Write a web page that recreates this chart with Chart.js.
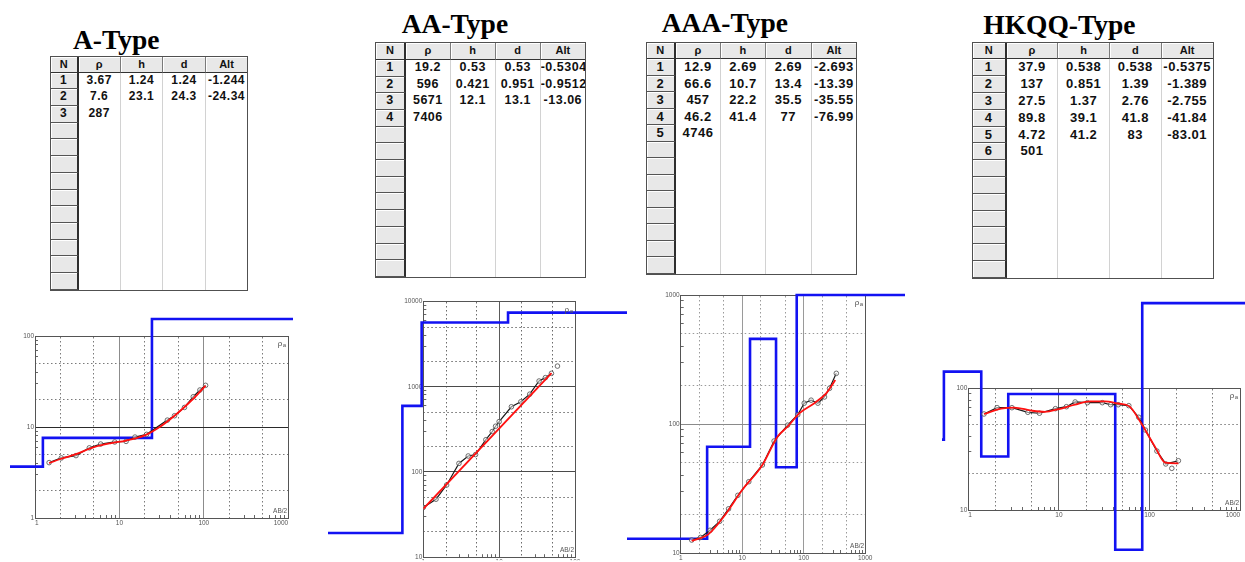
<!DOCTYPE html>
<html lang="en">
<head>
<meta charset="utf-8">
<title>Resistivity sounding curve types</title>
<script src="https://cdn.jsdelivr.net/npm/chart.js"></script>
<style>
  html, body { margin: 0; padding: 0; background: #fff; }
  body { position: relative; width: 1245px; height: 562px; overflow: hidden; }
  .title { position: absolute; font: bold 27.5px "Liberation Serif", "Times New Roman", serif; line-height: 27.5px; color: #000; white-space: nowrap; }
  .ltab { position: absolute; box-sizing: content-box; border: 1px solid #505050; background: #fff;
          font-family: "Liberation Sans", Arial, sans-serif; font-weight: bold; color: #111; }
  .row { display: flex; }
  .cell { box-sizing: border-box; overflow: hidden; white-space: nowrap; text-align: center; letter-spacing: 0.5px; flex: none; }
  .hd { background: #e8e8e8; border-right: 1px solid #7a7a7a; border-bottom: 1px solid #333; box-shadow: inset 1px 1px 0 #fff; font-size: 11px; letter-spacing: 0; }
  .nc { background: #e8e8e8; border-bottom: 1px solid #555; box-shadow: inset 1px 1px 0 #fff; }
  .sep { border-right: 2px solid #2e2e2e !important; }
  .dc { border-right: 1px solid #d2d2d2; }
  .last { border-right: none !important; }
  .plot { position: absolute; }
</style>
</head>
<body>
<script>
// ---- A-type: layer table and sounding curve ----
const aRho = [3.67, 7.6, 287];
const aH   = [1.24, 23.1];
const aD   = [1.24, 24.3];
const aAlt = [-1.244, -24.34];
const aObsX = [1.47, 2.05, 3.06, 4.4, 6.0, 8.8, 12, 15.3, 21, 37, 45, 59, 75, 90, 105];
const aObsY = [4.06, 4.57, 4.85, 5.9, 6.5, 6.85, 6.95, 7.75, 8.3, 11.9, 13.3, 16.4, 21.5, 25.5, 28.7];
const aFitX = [1.47, 2, 3, 5, 8, 12, 20, 30, 45, 65, 85, 105];
const aFitY = [4.0, 4.45, 5.0, 6.0, 6.65, 7.1, 8.1, 10.0, 13.3, 18.0, 23.0, 28.5];

// ---- AA-type ----
const aaRho = [19.2, 596, 5671, 7406];
const aaH   = [0.53, 0.421, 12.1];
const aaD   = [0.53, 0.951, 13.1];
const aaAlt = [-0.5304, -0.9512, -13.06];
const aaObsX = [1.0, 1.47, 2.03, 2.95, 3.91, 4.89, 6.68, 8.1, 8.97, 10, 14.5, 19.3, 25.3, 33.6, 40.7, 48.9];
const aaObsY = [38.4, 47.9, 70.3, 126, 154, 160, 239, 298, 344, 390, 582, 666, 818, 1167, 1279, 1436];
const aaOutX = [58.7];
const aaOutY = [1746];
const aaFitX = [1.0, 49];
const aaFitY = [37, 1440];

// ---- AAA-type ----
const aaaRho = [12.9, 66.6, 457, 46.2, 4746];
const aaaH   = [2.69, 10.7, 22.2, 41.4];
const aaaD   = [2.69, 13.4, 35.5, 77];
const aaaAlt = [-2.693, -13.39, -35.55, -76.99];
const aaaObsX = [1.51, 2.1, 3.0, 4.3, 6.0, 8.5, 12.8, 21.3, 33, 54.7, 80, 102, 132, 170, 218, 263, 339];
const aaaObsY = [12.6, 13.2, 15.0, 17.6, 22.0, 28.0, 35.7, 48.1, 73.8, 98, 118, 145, 153, 145, 162, 189, 247];
const aaaFitX = [1.51, 2.84, 5.0, 10, 21.3, 37.5, 54.7, 84.8, 149, 232, 326];
const aaaFitY = [12.4, 14.0, 19.1, 30.8, 48.1, 79.8, 95.3, 121, 145, 173, 219];

// ---- HKQQ-type ----
const hRho = [37.9, 137, 27.5, 89.8, 4.72, 501];
const hH   = [0.538, 0.851, 1.37, 39.1, 41.2];
const hD   = [0.538, 1.39, 2.76, 41.8, 83];
const hAlt = [-0.5375, -1.389, -2.755, -41.84, -83.01];
const hObsX = [1.49, 2.08, 3.03, 4.54, 6.1, 9.14, 12.1, 15.1, 20.6, 30.1, 37.2, 45.1, 59, 76, 90, 120.5, 151, 208];
const hObsY = [61.5, 69.3, 69.3, 63.5, 62.4, 68, 70.6, 77.2, 76.2, 76.2, 73.3, 73.3, 72, 57.8, 45.4, 30.5, 23.9, 25.4];
const hOutX = [176];
const hOutY = [22];
const hFitX = [1.49, 2.3, 3.2, 5, 7, 10, 15, 22, 32, 45, 60, 79, 115, 149, 208];
const hFitY = [61.5, 68, 69.5, 65.5, 64, 67.5, 73.5, 78, 78, 75, 71, 53, 33, 24.5, 24.2];

// ---- page layout ----
const panels = [
  { title: 'A-Type', tx: 73, ty: 26.3,
    table: { left: 50.7, top: 57.3, cols: [28, 42, 42.7, 42.3, 41.6], head: 15.4, row: 16.7, font: 12 },
    rho: aRho, h: aH, d: aD, alt: aAlt,
    obs: [aObsX, aObsY], fit: [aFitX, aFitY], out: null,
    canvas: { l: 10, t: 300, r: 293, b: 540 }, area: { l: 35, t: 336, r: 292.5, b: 518 },
    x: [1, 1000], y: [1, 100], ceil: 154,
    look: { xSolid: '#8c8c8c', ySolid: '#2a2a2a', dot: '#7a7a7a', align: 'inner' } },
  { title: 'AA-Type', tx: 401.7, ty: 10,
    table: { left: 376, top: 43.3, cols: [30, 44.7, 45, 45, 44.3], head: 16.7, row: 16.7, font: 12.5 },
    rho: aaRho, h: aaH, d: aaD, alt: aaAlt,
    obs: [aaObsX, aaObsY], fit: [aaFitX, aaFitY], out: [aaOutX, aaOutY],
    canvas: { l: 328, t: 290, r: 627, b: 562 }, area: { l: 423.3, t: 301.5, r: 575, b: 559 },
    x: [1, 100], y: [10, 10000], ceil: null,
    look: { xSolid: '#5a5a5a', ySolid: '#4a4a4a', dot: '#6a6a6a', align: 'center' } },
  { title: 'AAA-Type', tx: 661.7, ty: 8.6,
    table: { left: 646.7, top: 42.7, cols: [29.3, 45, 45, 45.7, 44.3], head: 16.7, row: 16.5, font: 13 },
    rho: aaaRho, h: aaaH, d: aaaD, alt: aaaAlt,
    obs: [aaaObsX, aaaObsY], fit: [aaaFitX, aaaFitY], out: null,
    canvas: { l: 627, t: 285, r: 905, b: 562 }, area: { l: 680.7, t: 295, r: 865.2, b: 553 },
    x: [1, 1000], y: [10, 1000], ceil: 1000,
    look: { xSolid: '#9a9a9a', ySolid: '#8a8a8a', dot: '#9a9a9a', align: 'center' } },
  { title: 'HKQQ-Type', tx: 983.3, ty: 11,
    table: { left: 972.7, top: 42.7, cols: [34, 51.6, 51.7, 51.7, 51], head: 16.7, row: 16.8, font: 13 },
    rho: hRho, h: hH, d: hD, alt: hAlt,
    obs: [hObsX, hObsY], fit: [hFitX, hFitY], out: [hOutX, hOutY],
    canvas: { l: 942, t: 295, r: 1245, b: 562 }, area: { l: 968.3, t: 388.3, r: 1242.3, b: 510 },
    x: [1, 1000], y: [10, 100], ceil: null,
    look: { xSolid: '#666666', ySolid: '#666666', dot: '#7a7a7a', align: 'inner' } }
];

const TABLE_ROWS = 13;
const Y_LABEL_W = 22;   // room kept for the y tick labels
const X_LABEL_H = 10;   // room kept for the x tick labels

function el(tag, cls, parent) {
  const e = document.createElement(tag);
  if (cls) e.className = cls;
  if (parent) parent.appendChild(e);
  return e;
}

function buildTitle(p) {
  const t = el('div', 'title', document.body);
  t.textContent = p.title;
  t.style.left = p.tx + 'px';
  t.style.top = p.ty + 'px';
}

// Layer parameter grid: N | rho | h | d | Alt
function buildTable(p) {
  const g = p.table;
  const box = el('div', 'ltab', document.body);
  box.style.left = (g.left - 1) + 'px';
  box.style.top = (g.top - 1) + 'px';
  box.style.width = g.cols.reduce((s, c) => s + c, 0) + 'px';
  box.style.fontSize = g.font + 'px';

  const head = el('div', 'row', box);
  ['N', 'ρ', 'h', 'd', 'Alt'].forEach((txt, i) => {
    const c = el('div', 'cell hd' + (i === 0 ? ' sep' : '') + (i === 4 ? ' last' : ''), head);
    c.style.width = g.cols[i] + 'px';
    c.style.height = g.head + 'px';
    c.style.lineHeight = (g.head - 1) + 'px';
    c.textContent = txt;
  });

  for (let r = 0; r < TABLE_ROWS; r++) {
    const row = el('div', 'row', box);
    const vals = [
      r < p.rho.length ? String(r + 1) : '',
      p.rho[r], p.h[r], p.d[r], p.alt[r]
    ].map(v => (v === undefined ? '' : String(v)));
    vals.forEach((txt, i) => {
      const c = el('div', 'cell ' + (i === 0 ? 'nc sep' : 'dc') + (i === 4 ? ' last' : ''), row);
      c.style.width = g.cols[i] + 'px';
      c.style.height = g.row + 'px';
      c.style.lineHeight = (g.row - 1) + 'px';
      c.textContent = txt;
    });
  }
}

// positions of grid lines on a log axis: multipliers of each decade inside [min, max]
function ticksIn(min, max, mults) {
  const out = [];
  const e0 = Math.floor(Math.log10(min)), e1 = Math.ceil(Math.log10(max));
  for (let e = e0; e <= e1; e++) {
    for (const m of mults) {
      const v = +(m * Math.pow(10, e)).toPrecision(6);
      if (v >= min * 0.999 && v <= max * 1.001) out.push(v);
    }
  }
  return out;
}

const sizedBox = (w, h) => s => {
  if (s.isHorizontal()) s.height = h; else s.width = w;
  s.paddingLeft = s.paddingRight = s.paddingTop = s.paddingBottom = 0;
};
const fixTicks = list => s => { s.ticks = list.map(v => ({ value: v })); };

function axisSet(dir, min, max, look, labelRoom) {
  const horiz = dir === 'x';
  const solid = horiz ? look.xSolid : look.ySolid;
  const cfg = {};
  // decades: solid lines and labels
  cfg[dir] = {
    type: 'logarithmic', position: horiz ? 'bottom' : 'left', min, max, weight: 1,
    afterFit: sizedBox(labelRoom, labelRoom), afterBuildTicks: fixTicks(ticksIn(min, max, [1])),
    grid: { color: solid, lineWidth: 1, drawTicks: false },
    border: { display: true, color: '#555', width: 1 },
    ticks: {
      autoSkip: false, maxRotation: 0, minRotation: 0, padding: 1,
      font: { family: 'Liberation Sans', size: 6.5 }, color: '#555',
      align: horiz ? look.align : 'center',
      callback: v => String(v)
    }
  };
  // 2 and 5 of each decade: dotted lines, plus the opposite frame edge
  cfg[dir + 'g'] = {
    type: 'logarithmic', position: horiz ? 'top' : 'right', min, max, weight: 0,
    afterFit: sizedBox(0, 0), afterBuildTicks: fixTicks(ticksIn(min, max, [2, 5])),
    grid: { color: look.dot, lineWidth: 1, drawTicks: false },
    border: { display: true, color: '#555', width: 1, dash: [1.5, 2.5] },
    ticks: { display: false, autoSkip: false }
  };
  // short inner tick marks for the remaining subdivisions
  cfg[dir + 'm'] = {
    type: 'logarithmic', position: horiz ? 'bottom' : 'left', min, max, weight: 0,
    afterFit: sizedBox(0, 0), afterBuildTicks: fixTicks(ticksIn(min, max, [3, 4, 6, 7, 8, 9])),
    grid: { drawOnChartArea: false, drawTicks: true, tickLength: -3, tickColor: '#666', tickWidth: 1 },
    border: { display: false },
    ticks: { display: false, autoSkip: false }
  };
  return cfg;
}

function zip(xs, ys) { return xs.map((x, i) => ({ x, y: ys[i] })); }

// layered model as a polyline of corners: rho[i] down to depth d[i];
// listed from depth to surface so every corner is kept, including those left of the axis
function modelSteps(rho, d, ceil) {
  const lim = v => (ceil ? Math.min(v, ceil) : v);
  const pts = [{ x: 1e-3, y: lim(rho[0]) }];
  d.forEach((depth, i) => {
    pts.push({ x: depth, y: lim(rho[i]) });
    pts.push({ x: depth, y: lim(rho[i + 1]) });
  });
  pts.push({ x: 1e5, y: lim(rho[rho.length - 1]) });
  return pts.reverse();
}

const axisNotes = {
  id: 'axisNotes',
  afterDraw(chart) {
    const a = chart.chartArea, ctx = chart.ctx;
    ctx.save();
    ctx.fillStyle = '#555';
    ctx.textAlign = 'right';
    ctx.textBaseline = 'alphabetic';
    ctx.font = '8px "Liberation Sans", Arial, sans-serif';
    ctx.fillText('ρ', a.right - 6, a.top + 10);
    ctx.font = '6px "Liberation Sans", Arial, sans-serif';
    ctx.fillText('a', a.right - 2, a.top + 11);
    ctx.font = '6.5px "Liberation Sans", Arial, sans-serif';
    ctx.fillText('AB/2', a.right - 1, a.bottom - 5);
    ctx.restore();
  }
};

function buildChart(p) {
  const c = p.canvas, a = p.area;
  const W = c.r - c.l, H = c.b - c.t;
  const cv = el('canvas', 'plot', document.body);
  cv.width = W; cv.height = H;
  cv.style.left = c.l + 'px'; cv.style.top = c.t + 'px';
  cv.style.width = W + 'px'; cv.style.height = H + 'px';

  const xRoom = Math.min(X_LABEL_H, c.b - a.b);
  const datasets = [
    { label: 'fit', data: zip(p.fit[0], p.fit[1]), borderColor: '#ff1010', borderWidth: 1.8,
      pointRadius: 0, cubicInterpolationMode: 'monotone', order: 1 },
    { label: 'observed', data: zip(p.obs[0], p.obs[1]), borderColor: '#1a1a1a', borderWidth: 1.2,
      pointRadius: 2.3, pointBorderWidth: 0.8, pointBorderColor: '#4a4a4a',
      pointBackgroundColor: 'rgba(255,255,255,0.5)', order: 2 },
    { label: 'model', data: modelSteps(p.rho, p.d, p.ceil),
      borderColor: '#1212f2', borderWidth: 2.6, pointRadius: 0, clip: false, order: 3 }
  ];
  if (p.out) {
    datasets.push({ label: 'rejected', data: zip(p.out[0], p.out[1]), showLine: false,
      pointRadius: 2.3, pointBorderWidth: 0.8, pointBorderColor: '#4a4a4a',
      pointBackgroundColor: 'rgba(255,255,255,0.5)', order: 2 });
  }

  const scales = Object.assign({},
    axisSet('x', p.x[0], p.x[1], p.look, xRoom),
    axisSet('y', p.y[0], p.y[1], p.look, Y_LABEL_W));

  new Chart(cv, {
    type: 'line',
    data: { datasets },
    options: {
      responsive: false, animation: false, devicePixelRatio: 1, events: [],
      layout: { padding: {
        left: a.l - c.l - Y_LABEL_W, top: a.t - c.t,
        right: c.r - a.r, bottom: c.b - a.b - xRoom } },
      plugins: { legend: { display: false }, tooltip: { enabled: false } },
      scales
    },
    plugins: [axisNotes]
  });
}

panels.forEach(p => { buildTitle(p); buildTable(p); buildChart(p); });
</script>
</body>
</html>
